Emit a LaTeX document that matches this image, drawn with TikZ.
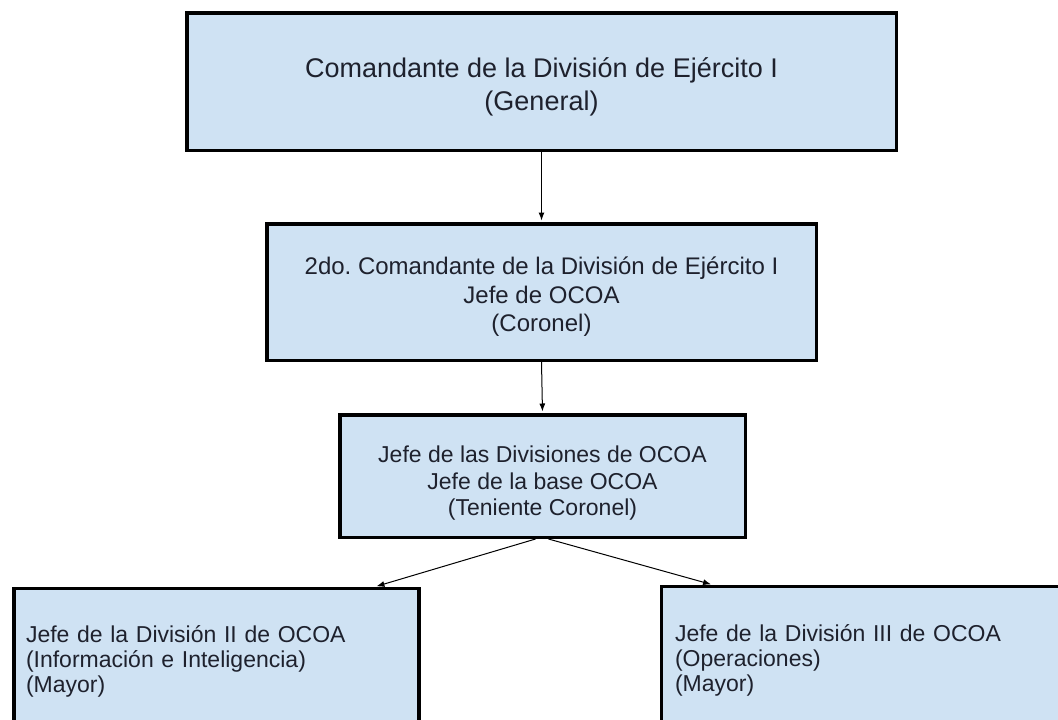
\documentclass[tikz,border=0pt]{standalone}
\usepackage{fontspec}
\setmainfont{Liberation Sans}
\frenchspacing
\usetikzlibrary{arrows.meta}

\definecolor{boxblue}{RGB}{207,226,243}
\definecolor{inkdark}{RGB}{30,33,45}

\begin{document}
\begin{tikzpicture}[x=1pt,y=-1pt,
  rank/.style={draw=black,line width=3.5pt,fill=boxblue,text=inkdark,
    align=center,inner sep=0pt,font=\fontsize{23}{26.5}\selectfont},
  unit/.style={draw=black,line width=3.5pt,fill=boxblue,text=inkdark,
    align=left,inner ysep=0pt,font=\fontsize{23}{25}\selectfont},
  link/.style={-{Latex[length=8pt,width=6pt]},line width=1pt,shorten >=1.5pt}]

  % page frame
  \useasboundingbox (0,0) rectangle (1058,720);
  \fill[white] (0,0) rectangle (1058,720);
  \clip (0,0) rectangle (1058,720);

  % command levels (rules push the text a little down)
  \node[rank,minimum width=709.5pt,minimum height=137.5pt,
    font=\fontsize{27}{33}\selectfont] (chief) at (541.5,81.5)
    {\rule{0pt}{30pt}Comandante de la División de Ejército I\\(General)};
  \node[rank,minimum width=549.5pt,minimum height=136.5pt,
    font=\fontsize{24}{28.5}\selectfont] (second) at (541.5,292)
    {\rule{0pt}{27pt}2do. Comandante de la División de Ejército I\\Jefe de OCOA\\(Coronel)};
  \node[rank,minimum width=405.5pt,minimum height=122.5pt] (lead) at (542.5,476)
    {\rule{0pt}{31pt}Jefe de las Divisiones de OCOA\\Jefe de la base OCOA\\(Teniente Coronel)};

  % divisions (cut by the page edge)
  \node[unit,inner xsep=12pt,text width=381pt,minimum height=145pt] (intel) at (216.5,661)
    {Jefe de la División II de OCOA\\(Información e Inteligencia)\\(Mayor)};
  \node[unit,inner xsep=13.5pt,text width=393pt,minimum height=147pt] (ops) at (871.5,660)
    {Jefe de la División III de OCOA\\(Operaciones)\\(Mayor)};

  % links
  \draw[link] (chief.south) -- (second.north);
  \draw[link] (second.south) -- (lead.north);
  \draw[link] ([xshift=-7pt]lead.south) -- ([xshift=158.5pt]intel.north);
  \draw[link] ([xshift=6pt]lead.south) -- ([xshift=-159pt]ops.north);

\end{tikzpicture}
\end{document}
